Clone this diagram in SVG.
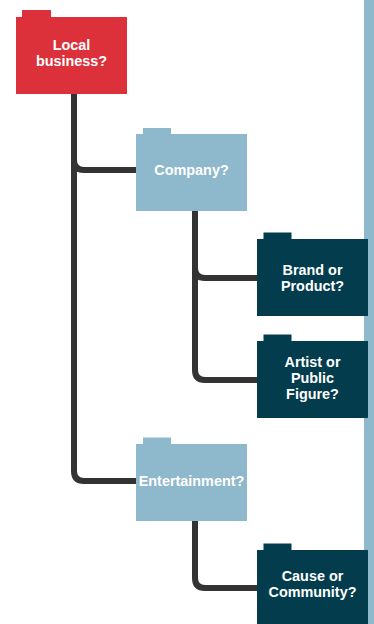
<svg xmlns="http://www.w3.org/2000/svg" width="374" height="624" viewBox="0 0 374 624">
<style>
.t{font-family:"Liberation Sans",Arial,sans-serif;font-weight:bold;font-size:14.4px;fill:#ffffff;text-anchor:middle}
.c{fill:none;stroke:#333333;stroke-width:6}
.red{fill:#dc303a}
.lb{fill:#8eb8cb}
.dk{fill:#033c4c}
</style>
<rect x="0" y="0" width="374" height="624" fill="#ffffff"/>
<rect id="sidebar" x="364" y="0" width="10" height="624" fill="#8eb8cb"/>
<g id="connectors">
<path class="c" d="M74,94 V471 Q74,481 84,481 H137"/>
<path class="c" d="M74,150 V160 Q74,170 84,170 H137"/>
<path class="c" d="M195,210 V370 Q195,380 205,380 H258"/>
<path class="c" d="M195,258 V268 Q195,278 205,278 H258"/>
<path class="c" d="M195,520 V578 Q195,588 205,588 H258"/>
</g>
<g id="local-business">
<rect class="red" x="22" y="10" width="29" height="8"/>
<rect class="red" x="16" y="17" width="111" height="77"/>
<text class="t" x="71.5" y="50">Local</text>
<text class="t" x="71.5" y="66">business?</text>
</g>
<g id="company">
<rect class="lb" x="143" y="128" width="28" height="7"/>
<rect class="lb" x="136" y="134" width="111" height="77"/>
<text class="t" x="191.5" y="175">Company?</text>
</g>
<g id="brand">
<rect class="dk" x="263.5" y="232.5" width="28" height="7"/>
<rect class="dk" x="257" y="239" width="111" height="77"/>
<text class="t" x="312.5" y="275">Brand or</text>
<text class="t" x="312.5" y="291">Product?</text>
</g>
<g id="artist">
<rect class="dk" x="263.5" y="334.5" width="28" height="7"/>
<rect class="dk" x="257" y="341" width="111" height="77"/>
<text class="t" x="312.5" y="367">Artist or</text>
<text class="t" x="312.5" y="383">Public</text>
<text class="t" x="312.5" y="398.5">Figure?</text>
</g>
<g id="entertainment">
<rect class="lb" x="143" y="437.5" width="28" height="7"/>
<rect class="lb" x="136" y="444" width="111" height="77"/>
<text class="t" x="191.5" y="485.5">Entertainment?</text>
</g>
<g id="cause">
<rect class="dk" x="263.5" y="543.5" width="28" height="7"/>
<rect class="dk" x="257" y="550" width="111" height="77"/>
<text class="t" x="312.5" y="581">Cause or</text>
<text class="t" x="312.5" y="597">Community?</text>
</g>
</svg>
